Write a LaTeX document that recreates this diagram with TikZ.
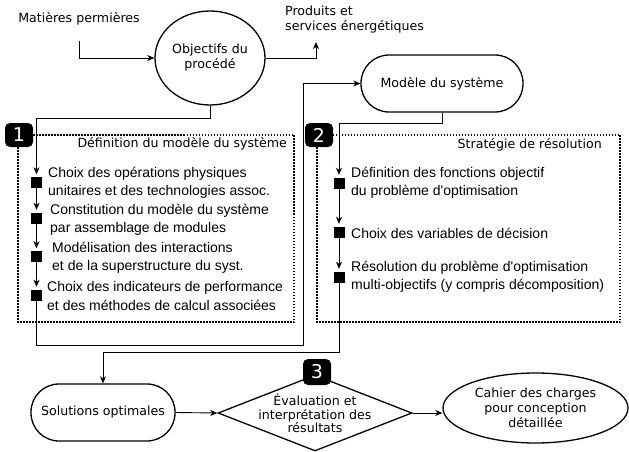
\documentclass[tikz,border=0pt]{standalone}
\usepackage{fontspec}
\setmainfont{DejaVu Sans}
\newfontfamily\itemfont{Liberation Sans}
\usetikzlibrary{shapes.geometric,arrows.meta}

\begin{document}
\begin{tikzpicture}[x=1pt,y=-1pt,
  every node/.style={inner sep=0pt, font=\fontsize{12.6}{15}\selectfont},
  flow/.style={line width=0.9pt, -{Stealth[length=7pt,width=6pt,inset=2pt]}},
  shapeline/.style={draw, line width=1.3pt},
  stadium/.style={shapeline, rectangle, rounded corners=28pt, align=center,
                  minimum height=57pt},
  oval/.style={shapeline, ellipse, align=center},
  badge/.style={fill=black, rounded corners=5pt, minimum width=28pt,
                minimum height=24pt, text=white,
                font=\fontsize{19}{19}\selectfont},
  stepmark/.style={fill=black, minimum width=11pt, minimum height=11pt},
  steptext/.style={anchor=west, align=left,
                   font=\itemfont\fontsize{14}{18.5}\selectfont},
  phase/.style={draw, line width=1.2pt, dash pattern=on 1.5pt off 1.5pt},
  heading/.style={anchor=east},
]
\useasboundingbox (0,0) rectangle (629,452);

% --- top: inputs, objectives, outputs --------------------------------
\node (matieres) at (79,19) {Matières permières};
\node[oval, minimum width=110pt, minimum height=94pt] (objectifs) at (210,58)
  {Objectifs du\\procédé};
\node[anchor=west, align=left] (produits) at (285,20)
  {Produits et\\services énergétiques};
\coordinate (prodin) at (316,42);

\node[stadium, minimum width=162pt] (modele) at (442,83.5) {Modèle du système};

% --- phase 1: system model ---------------------------------------------
\draw[phase] (18,135) rectangle (294,322);
\node[heading] (h1) at (287,144) {Définition du modèle du système};

\node[stepmark] (a1) at (36.5,182.5) {};
\node[stepmark] (a2) at (36.5,218) {};
\node[stepmark] (a3) at (36.5,256.5) {};
\node[stepmark] (a4) at (36.5,295) {};

\node[steptext] (t1) at (48,183)
  {Choix des opérations physiques\\unitaires et des technologies assoc.};
\node[steptext] (t2) at (50,220)
  {Constitution du modèle du système\\par assemblage de modules};
\node[steptext] (t3) at (52,258)
  {Modélisation des interactions\\et de la superstructure du syst.};
\node[steptext] (t4) at (47,296)
  {Choix des indicateurs de performance\\et des méthodes de calcul associées};

% --- phase 2: solution strategy ----------------------------------------
\draw[phase] (317,135) rectangle (620,322);
\node[heading] (h2) at (602,145) {Stratégie de résolution};

\node[stepmark] (b1) at (339,183) {};
\node[stepmark] (b2) at (339,232) {};
\node[stepmark] (b3) at (339,277) {};

\node[steptext] (u1) at (351,183)
  {Définition des fonctions objectif\\du problème d'optimisation};
\node[steptext] (u2) at (351,233) {Choix des variables de décision};
\node[steptext] (u3) at (351,277)
  {Résolution du problème d'optimisation\\multi-objectifs (y compris décomposition)};

% --- bottom: results ----------------------------------------------------
\node[stadium, minimum width=144pt] (solutions) at (103,412.5) {Solutions optimales};
\node[shapeline, diamond, minimum width=194pt, minimum height=76pt, aspect=2.55]
  (eval) at (315,413) {};
\node[align=center, font=\fontsize{12.6}{13.5}\selectfont] (evaltext) at (315,413.5)
  {Évaluation et\\interprétation des\\résultats};
\node[oval, minimum width=185pt, minimum height=70pt] (cahier) at (535.5,408)
  {Cahier des charges\\pour conception\\détaillée};

% --- connectors -----------------------------------------------------------
\coordinate (k1) at (303,345);
\coordinate (j2) at (0,352);

\draw[flow, shorten <=15pt] (matieres.south) |- (objectifs.west);
\draw[flow] (objectifs.east) -| (prodin);

\draw[flow, shorten >=2.5pt] (objectifs.south) -- ++(0,13) -| (a1.north);
\draw[flow, shorten >=2.5pt] (a1.south) -- (a2.north);
\draw[flow, shorten >=2.5pt] (a2.south) -- (a3.north);
\draw[flow, shorten >=2.5pt] (a3.south) -- (a4.north);
\draw[flow] (a4.south) |- (k1) |- (modele.west);

\draw[flow, shorten >=2.5pt] (modele.south) -- ++(0,11) -| (b1.north);
\draw[flow, shorten >=2.5pt] (b1.south) -- (b2.north);
\draw[flow, shorten >=2.5pt] (b2.south) -- (b3.north);
\draw[flow] (b3.south) |- (j2 -| solutions.north) -- (solutions.north);

\draw[flow] (solutions.east) -- (eval.west);
\draw[flow] (eval.east) -- (eval.east -| cahier.west);

% --- phase badges ---------------------------------------------------------
\node[badge] (n1) at (19,135) {1};
\node[badge] (n2) at (319,135) {2};
\node[badge, minimum height=26pt] (n3) at (317,372) {3};
\end{tikzpicture}
\end{document}
